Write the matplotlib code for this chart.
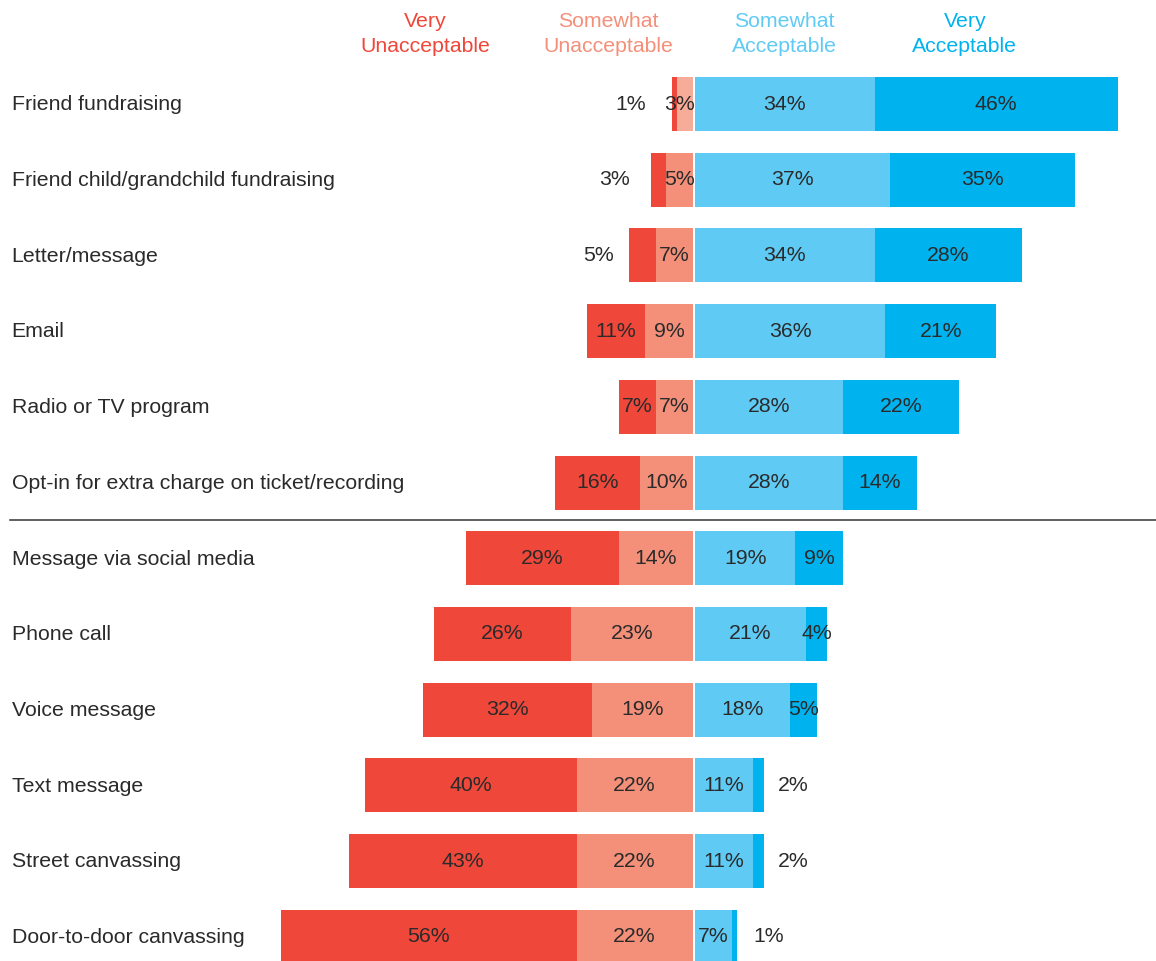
import numpy as np
import matplotlib
matplotlib.use('Agg')
import matplotlib.pyplot as plt

plt.rcParams['font.family'] = ['Liberation Sans Narrow', 'Liberation Sans', 'DejaVu Sans']

categories = [
    'Friend fundraising',
    'Friend child/grandchild fundraising',
    'Letter/message',
    'Email',
    'Radio or TV program',
    'Opt-in for extra charge on ticket/recording',
    'Message via social media',
    'Phone call',
    'Voice message',
    'Text message',
    'Street canvassing',
    'Door-to-door canvassing',
]
very_unacc = [1, 3, 5, 11, 7, 16, 29, 26, 32, 40, 43, 56]
somewhat_unacc = [3, 5, 7, 9, 7, 10, 14, 23, 19, 22, 22, 22]
somewhat_acc = [34, 37, 34, 36, 28, 28, 19, 21, 18, 11, 11, 7]
very_acc = [46, 35, 28, 21, 22, 14, 9, 4, 5, 2, 2, 1]

headers = ['Very\nUnacceptable', 'Somewhat\nUnacceptable', 'Somewhat\nAcceptable', 'Very\nAcceptable']
header_x = [-50.9, -16.2, 17.2, 51.3]

c_vu = '#EF473A'
c_su = '#F4907A'
c_sa = '#5FCBF5'
c_va = '#00B3EE'
txt = '#2a2a2a'

fig = plt.figure(figsize=(11.56, 9.61), dpi=100)
ax = fig.add_axes([0, 0, 1, 1])
ax.set_xlim(-131.4, 87.5)
ax.set_ylim(11.32, -1.374)
ax.axis('off')

y = np.arange(len(categories))
h = 0.713
gap = 0.22
vu = np.array(very_unacc)
su = np.array(somewhat_unacc)
sa = np.array(somewhat_acc)
va = np.array(very_acc)

su_colors = [c_su] * len(categories)
su_colors[0] = '#F7AC9A'
ax.barh(y, -su, left=-gap, height=h, color=su_colors, linewidth=0)
ax.barh(y, -vu, left=-gap - su, height=h, color=c_vu, linewidth=0)
ax.barh(y, sa, left=gap, height=h, color=c_sa, linewidth=0)
ax.barh(y, va, left=gap + sa, height=h, color=c_va, linewidth=0)

fs = 15.3
for i in range(len(categories)):
    ax.text(-129.2, y[i] + 0.01, categories[i], ha='left', va='center', fontsize=fs, color=txt)
    # very unacceptable
    cx = -gap - su[i] - vu[i] / 2
    if vu[i] <= 5:
        cx -= 8.3
    ax.text(cx, y[i], f'{vu[i]}%', ha='center', va='center', fontsize=fs, color=txt)
    cx = -gap - su[i] / 2
    if su[i] <= 3:
        cx -= 1
    ax.text(cx, y[i], f'{su[i]}%', ha='center', va='center', fontsize=fs, color=txt)
    ax.text(gap + sa[i] / 2, y[i], f'{sa[i]}%', ha='center', va='center', fontsize=fs, color=txt)
    cx = gap + sa[i] + va[i] / 2
    if va[i] <= 2:
        cx += 6.5
    ax.text(cx, y[i], f'{va[i]}%', ha='center', va='center', fontsize=fs, color=txt)

for lab, hx, col in zip(headers, header_x, [c_vu, c_su, c_sa, c_va]):
    ax.text(hx, -0.925, lab, ha='center', va='center', fontsize=fs, color=col,
            linespacing=1.45)

ax.plot([-129.6, 87.5], [5.5, 5.5], color='#333333', linewidth=1.1)

fig.savefig('out.png', dpi=100)
